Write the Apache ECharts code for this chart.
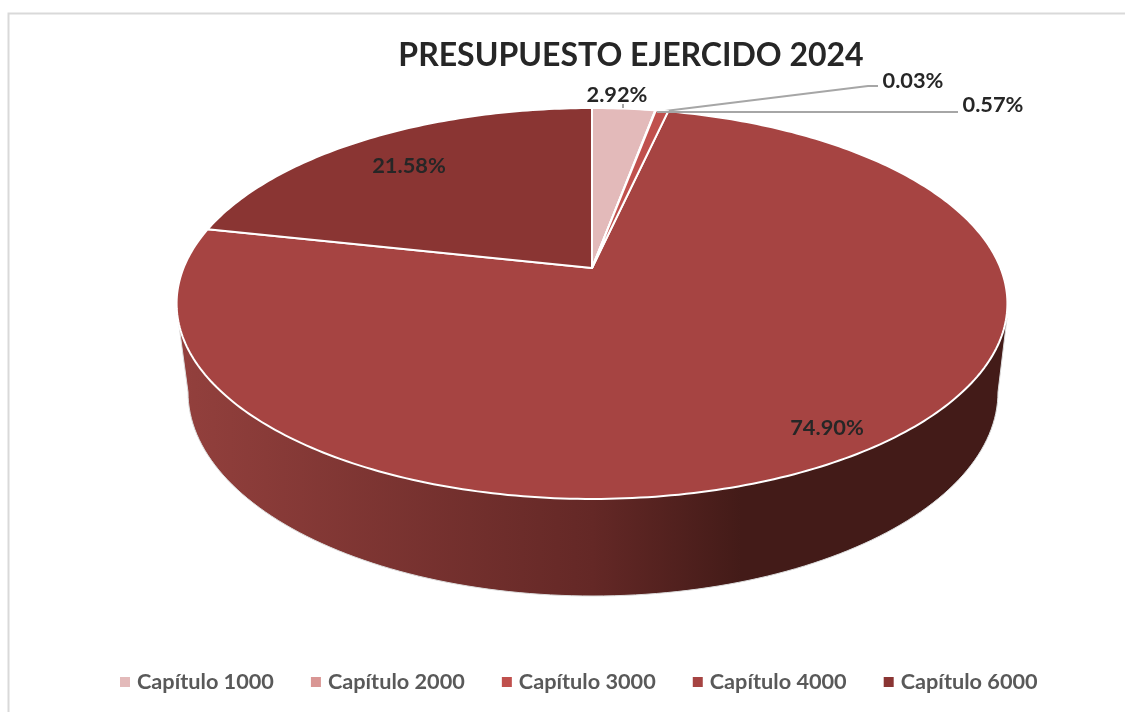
<!DOCTYPE html>
<html>
<head>
<meta charset="utf-8">
<title>Presupuesto ejercido 2024</title>
<style>
html, body { margin: 0; padding: 0; background: #fff; }
#chart { width: 1125px; height: 713px; }
</style>
<script src="https://cdn.jsdelivr.net/npm/echarts@6/dist/echarts.min.js"></script>
</head>
<body>
<div id="chart"></div>
<script>
// datos
var categories = ['Capítulo 1000', 'Capítulo 2000', 'Capítulo 3000', 'Capítulo 4000', 'Capítulo 6000'];
var percents = [2.92, 0.03, 0.57, 74.90, 21.58];
var colors = ['#E3BABA', '#D99694', '#C0504D', '#A64442', '#8A3533'];

// posicion de las etiquetas
var labelPos = [[617, 95], [913, 81], [993, 105], [827, 428], [409, 166]];
// lineas guia de las etiquetas
var leaders = {
	0: [[623, 108], [623, 104]],
	1: [[657, 112], [868, 86], [878, 86]],
	2: [[657, 112], [958, 112]]
};

// perspectiva: vertice (592,268), tapa elipse 177-1007 x 108-499
var cx = 592, cy = 268;
var polarR = 100;
var persp = 0.1816, ax = 408.5, by = 189;
// base de la tarta
var baseCx = 593, baseCy = 392, baseRx = 405, baseRy = 204;

var starts = [];
var acc = 0;
percents.forEach(function (v) {
	starts.push(acc);
	acc += v;
});

// pasa un punto del eje polar a la tapa en perspectiva
function project(pt) {
	var u = (pt[0] - cx) / polarR;
	var v = (cy - pt[1]) / polarR;
	var d = 1 + persp * v;
	return [cx + ax * u / d, cy - by * v / d];
}

function wallPoints() {
	var pts = [[1007, 318]];
	for (var i = 0; i <= 120; i++) {
		var t = Math.PI * i / 120;
		pts.push([baseCx + baseRx * Math.cos(t), baseCy + baseRy * Math.sin(t)]);
	}
	pts.push([178, 318]);
	return pts;
}

function renderSlice(params, api) {
	var idx = params.seriesIndex;
	var from = api.value(0);
	var value = api.value(1);
	var pts = [project(api.coord([0, 0]))];
	var steps = Math.max(2, Math.ceil(value * 4));
	for (var i = 0; i <= steps; i++) {
		pts.push(project(api.coord([1, from + value * i / steps])));
	}
	var children = [];
	if (idx === 3) {
		children.push({
			type: 'polygon',
			shape: { points: wallPoints() },
			style: {
				stroke: '#ddd',
				lineWidth: 1,
				fill: new echarts.graphic.LinearGradient(0, 0, 1, 0, [
					{ offset: 0, color: '#93403d' },
					{ offset: 0.5, color: '#642826' },
					{ offset: 0.68, color: '#431b18' },
					{ offset: 1, color: '#431b18' }
				])
			}
		});
	}
	children.push({
		type: 'polygon',
		shape: { points: pts },
		style: { fill: colors[idx], stroke: '#fff', lineWidth: 2, lineJoin: 'round' }
	});
	if (leaders[idx]) {
		children.push({
			type: 'polyline',
			shape: { points: leaders[idx] },
			style: { fill: null, stroke: '#A6A6A6', lineWidth: 2 }
		});
	}
	children.push({
		type: 'text',
		z2: 10,
		style: {
			x: labelPos[idx][0],
			y: labelPos[idx][1],
			text: value.toFixed(2) + '%',
			align: 'center',
			verticalAlign: 'middle',
			fill: '#262626',
			font: 'bold 21.8px Lato, "Open Sans", sans-serif'
		}
	});
	return { type: 'group', children: children };
}

var series = categories.map(function (name, i) {
	return {
		name: name,
		type: 'custom',
		coordinateSystem: 'polar',
		itemStyle: { color: colors[i] },
		encode: { radius: 0, angle: 1 },
		silent: true,
		animation: false,
		z: i === 3 || i === 4 ? 2 : 3,
		renderItem: renderSlice,
		data: [[starts[i], percents[i]]],
		dimensions: ['from', 'value']
	};
});

var chart = echarts.init(document.getElementById('chart'));
chart.setOption({
	animation: false,
	backgroundColor: '#fff',
	title: {
		text: 'PRESUPUESTO EJERCIDO 2024',
		left: 626,
		top: 35,
		textAlign: 'center',
		textStyle: { color: '#262626', fontSize: 32, fontWeight: 'bold', fontFamily: 'Lato, "Open Sans", sans-serif' }
	},
	legend: {
		data: categories,
		left: 115,
		top: 666,
		icon: 'rect',
		itemWidth: 10,
		itemHeight: 10,
		itemGap: 37,
		textStyle: { color: '#595959', fontSize: 21.7, fontWeight: 'bold', fontFamily: 'Lato, "Open Sans", sans-serif', padding: [0, 0, 0, 2] }
	},
	polar: { center: [cx, cy], radius: polarR },
	angleAxis: { type: 'value', min: 0, max: 100, startAngle: 90, clockwise: true, show: false },
	radiusAxis: { type: 'value', min: 0, max: 1, show: false },
	graphic: [{
		type: 'polyline',
		silent: true,
		shape: { points: [[8.5, 712], [8.5, 13.5], [1125, 13.5]] },
		style: { fill: 'none', stroke: '#D9D9D9', lineWidth: 2 }
	}],
	series: series
});
</script>
</body>
</html>
